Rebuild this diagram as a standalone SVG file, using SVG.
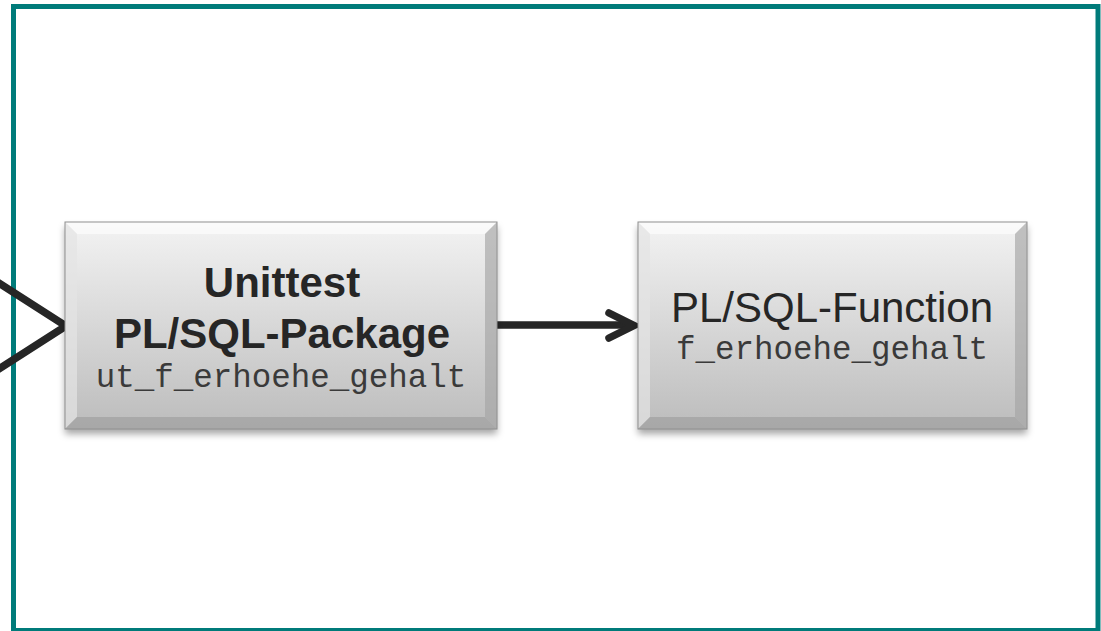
<svg xmlns="http://www.w3.org/2000/svg" width="1101" height="631" viewBox="0 0 1101 631">
<style>
.frame{fill:none;stroke:#007b7a;stroke-width:5}
.face{fill:url(#faceGrad)}
.edge{fill:none;stroke:#909090;stroke-width:1}
.bt{fill:#fbfbfb;opacity:0.8}
.bl{fill:#e4e4e4;opacity:0.7}
.br{fill:#a4a4a4;opacity:0.65}
.bb{fill:#a0a0a0;opacity:0.7}
.conn{fill:none;stroke:#262626;stroke-width:7.5;stroke-linecap:round;stroke-linejoin:miter}
.bold{font-family:"Liberation Sans",Arial,sans-serif;font-weight:bold;font-size:42px;fill:#262626;text-anchor:middle}
.reg{font-family:"Liberation Sans",Arial,sans-serif;font-size:42px;fill:#262626;text-anchor:middle}
.mono{font-family:"Liberation Mono","Courier New",monospace;font-size:32.5px;fill:#3a3a3a;text-anchor:middle}
</style>
<defs>
<linearGradient id="faceGrad" x1="0" y1="0" x2="0" y2="1">
<stop offset="0" stop-color="#f3f3f3"/>
<stop offset="1" stop-color="#bcbcbc"/>
</linearGradient>
<filter id="shadow" x="-10%" y="-10%" width="120%" height="130%">
<feDropShadow dx="0" dy="5" stdDeviation="3.5" flood-color="#000" flood-opacity="0.35"/>
</filter>
</defs>
<rect class="frame" x="13.5" y="6.5" width="1084.5" height="624"/>
<g id="connectors">
<polyline class="conn" points="-12,276 66,326 -12,376"/>
<line class="conn" x1="497" y1="325" x2="630" y2="325"/>
<polyline class="conn" points="609,313 634,325.5 609,338"/>
</g>
<g id="node-unittest">
<g filter="url(#shadow)">
<rect class="face" x="65" y="222" width="432" height="207"/>
</g>
<polygon class="bt" points="65,222 497,222 485,234 77,234"/>
<polygon class="bl" points="65,222 77,234 77,417 65,429"/>
<polygon class="br" points="497,222 497,429 485,417 485,234"/>
<polygon class="bb" points="65,429 77,417 485,417 497,429"/>
<rect class="edge" x="65" y="222" width="432" height="207"/>
<text class="bold" x="282" y="297">Unittest</text>
<text class="bold" x="282" y="348">PL/SQL-Package</text>
<text class="mono" x="281" y="387">ut_f_erhoehe_gehalt</text>
</g>
<g id="node-function">
<g filter="url(#shadow)">
<rect class="face" x="638" y="222" width="389" height="207"/>
</g>
<polygon class="bt" points="638,222 1027,222 1015,234 650,234"/>
<polygon class="bl" points="638,222 650,234 650,417 638,429"/>
<polygon class="br" points="1027,222 1027,429 1015,417 1015,234"/>
<polygon class="bb" points="638,429 650,417 1015,417 1027,429"/>
<rect class="edge" x="638" y="222" width="389" height="207"/>
<text class="reg" x="832" y="322">PL/SQL-Function</text>
<text class="mono" x="832" y="359">f_erhoehe_gehalt</text>
</g>
</svg>
